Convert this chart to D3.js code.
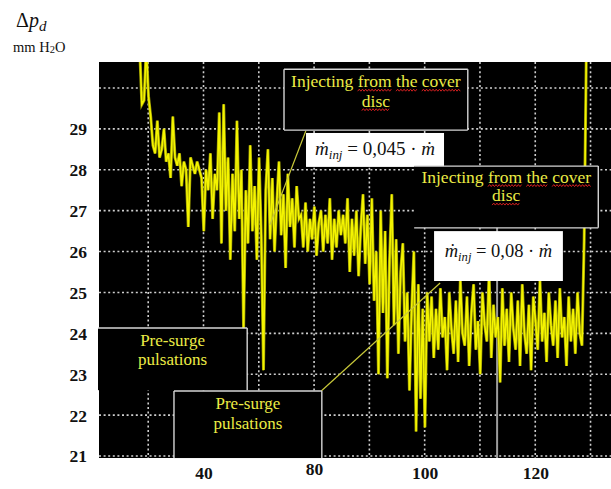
<!DOCTYPE html>
<html>
<head>
<meta charset="utf-8">
<script src="https://cdn.jsdelivr.net/npm/d3@7"></script>
<style>
  body { margin: 0; background: #fff; }
  svg { display: block; }
</style>
</head>
<body>
<div id="chart"></div>
<script>
// axis ticks and labels as printed on the figure
const yTicks = [21, 22, 23, 24, 25, 26, 27, 28, 29];
const yGrid = [21, 22, 23, 24, 25, 26, 27, 28, 29, 30];
const xGrid = [30, 40, 50, 60, 70, 80, 90, 100, 110];
const xTicks = [40, 60, 80, 100];
const xTickLabels = ['40', '80', '100', '120'];

// pressure drop signal, mm H2O
const sampleStart = 28.45;
const sampleStep = 0.4;
const dp = [
  31.0, 29.6, 29.7, 31.0, 29.8, 29.3, 28.6,
  28.4, 29.2, 28.3, 28.5, 29.0, 28.2, 28.4, 27.8, 29.3,
  28.3, 28.1, 28.4, 27.6, 28.2, 28.0, 26.6, 28.3, 28.1, 27.9, 28.2, 28.0,
  27.8, 26.5, 28.0, 27.5, 28.4, 26.8, 27.9,
  27.5, 29.4, 26.2, 29.6, 27.0, 28.3, 25.8, 27.9, 26.5,
  29.2, 26.8, 28.0, 24.1, 27.5, 26.2, 28.6, 26.5, 27.6, 25.8, 28.3, 26.4, 23.1,
  27.5, 28.5, 26.3, 27.8, 26.0, 27.2, 28.2, 26.4, 27.4, 25.6, 27.9, 26.6, 27.3, 26.1, 27.6, 26.8,
  26.9, 26.1, 27.2, 26.0, 26.8, 26.3, 27.1, 25.9, 26.7, 27.0, 26.0, 26.9, 26.2, 27.3, 25.8, 26.8, 26.1, 27.0, 26.4, 26.9,
  26.2, 27.3, 25.5, 26.8, 25.9, 27.0, 25.4, 26.6, 27.4, 25.7, 26.9, 25.2,
  27.3, 24.8, 26.0, 23.0, 27.0, 24.5, 26.5, 22.9, 25.8, 27.4, 24.2, 26.3, 23.5, 25.5, 26.2, 23.8, 25.0, 22.6, 24.6, 26.0, 21.6, 25.2,
  22.4, 24.6, 21.7, 25.0, 23.8,
  24.9, 23.4, 24.6, 23.6, 25.1, 23.9, 24.4, 23.1, 25.0, 24.1, 23.5, 24.8, 23.3, 25.3, 24.0, 23.7, 24.9, 23.2, 24.5, 25.2,
  23.6, 24.3, 23.0, 25.0, 24.2, 23.8, 25.5, 23.4, 24.7, 23.9, 24.4, 22.8, 25.1, 23.7, 24.6, 23.3, 25.0, 24.1, 23.6, 24.8,
  23.2, 25.2, 24.0, 23.5, 24.7, 23.1, 24.9, 24.3, 23.6, 25.3, 23.8, 24.5, 23.3, 25.0, 24.2, 23.7, 24.8, 23.4, 25.1, 23.9,
  24.4, 23.2, 24.9, 23.8, 24.6, 23.5, 25.0, 24.0, 23.7,
  26.3, 31.0
];

const width = 611;
const height = 489;
const plot = { left: 99, right: 611, top: 62, bottom: 458 };

const x = d3.scaleLinear().domain([21.1, 113.7]).range([plot.left, plot.right]);
const y = d3.scaleLinear().domain([21, 30]).range([456, 88]);

const serif = '"Liberation Serif", "Times New Roman", "DejaVu Serif", serif';
const textYellow = '#ecec45';

const svg = d3.select('#chart').append('svg')
  .attr('width', width)
  .attr('height', height);

// black plot field
svg.append('rect')
  .attr('x', plot.left).attr('y', plot.top)
  .attr('width', plot.right - plot.left).attr('height', plot.bottom - plot.top)
  .attr('fill', '#000');

// dotted grid
const grid = svg.append('g')
  .attr('stroke', '#cfcfcf')
  .attr('stroke-width', 1.6)
  .attr('stroke-dasharray', '2,2.6');

grid.selectAll('.hg').data(yGrid).enter().append('line')
  .attr('x1', plot.left).attr('x2', plot.right)
  .attr('y1', d => y(d)).attr('y2', d => y(d));

grid.selectAll('.vg').data(xGrid).enter().append('line')
  .attr('x1', d => x(d)).attr('x2', d => x(d))
  .attr('y1', plot.top).attr('y2', plot.bottom);

// grey marker line
svg.append('line')
  .attr('x1', x(93.1)).attr('x2', x(93.1))
  .attr('y1', y(26.6)).attr('y2', plot.bottom)
  .attr('stroke', '#9c9c9c')
  .attr('stroke-width', 2);

// signal trace
svg.append('clipPath').attr('id', 'clip')
  .append('rect')
  .attr('x', plot.left).attr('y', plot.top)
  .attr('width', plot.right - plot.left).attr('height', plot.bottom - plot.top);

const line = d3.line()
  .x((d, i) => x(sampleStart + i * sampleStep))
  .y(d => y(d));

svg.append('path')
  .datum(dp)
  .attr('clip-path', 'url(#clip)')
  .attr('fill', 'none')
  .attr('stroke', '#9a9a00')
  .attr('stroke-width', 3)
  .attr('d', line);

svg.append('path')
  .datum(dp)
  .attr('clip-path', 'url(#clip)')
  .attr('fill', 'none')
  .attr('stroke', '#f4f400')
  .attr('stroke-width', 1.6)
  .attr('d', line);

// pointer lines
const pointers = [
  [[58.5, 28.95], [52.0, 26.65]],
  [[61.3, 22.59], [82.8, 25.23]]
];
svg.selectAll('.ptr').data(pointers).enter().append('line')
  .attr('x1', d => x(d[0][0])).attr('y1', d => y(d[0][1]))
  .attr('x2', d => x(d[1][0])).attr('y2', d => y(d[1][1]))
  .attr('stroke', '#c9c93a')
  .attr('stroke-width', 1.2);

// wavy spell-check underline under the given words
function squiggle(g, textEl, words, baseY) {
  const node = textEl.node();
  const full = node.textContent;
  const total = node.getComputedTextLength();
  const cx = +textEl.attr('x');
  const x0 = cx - total / 2;
  words.forEach(w => {
    const idx = full.indexOf(w);
    if (idx < 0) return;
    const sx = x0 + node.getSubStringLength(0, idx);
    const sw = node.getSubStringLength(idx, w.length);
    const pts = [];
    for (let k = 0; k * 1.6 <= sw; k++) {
      pts.push([sx + k * 1.6, baseY + 3 + (k % 2 ? -1 : 1)]);
    }
    g.append('path')
      .attr('d', d3.line()(pts))
      .attr('fill', 'none')
      .attr('stroke', '#d42020')
      .attr('stroke-width', 1);
  });
}

// sides: which borders to stroke, in order top, right, bottom, left
function darkBox(x0, x1, v0, v1, sides, lines, fontSize, firstDy, lineGap, marks) {
  const g = svg.append('g');
  const left = x(x0), right = x(x1), top = y(v0), bottom = y(v1);
  g.append('rect')
    .attr('x', left).attr('y', top)
    .attr('width', right - left).attr('height', bottom - top)
    .attr('fill', '#000');
  const edges = [
    [[left, top], [right, top]],
    [[right, top], [right, bottom]],
    [[left, bottom], [right, bottom]],
    [[left, top], [left, bottom]]
  ];
  edges.forEach((e, i) => {
    if (sides[i] !== '1') return;
    g.append('line')
      .attr('x1', e[0][0]).attr('y1', e[0][1])
      .attr('x2', e[1][0]).attr('y2', e[1][1])
      .attr('stroke', '#d6d6d6')
      .attr('stroke-width', 1.4);
  });
  lines.forEach((t, i) => {
    const by = top + firstDy + i * lineGap;
    const te = g.append('text')
      .attr('x', (left + right) / 2)
      .attr('y', by)
      .attr('text-anchor', 'middle')
      .attr('font-family', serif)
      .attr('font-size', fontSize)
      .attr('fill', textYellow)
      .text(t);
    if (marks) squiggle(g, te, marks[i], by);
  });
}

function formulaBox(x0, x1, v0, v1, coef, fontSize, baseDy) {
  const g = svg.append('g');
  const left = x(x0), right = x(x1), top = y(v0), bottom = y(v1);
  g.append('rect')
    .attr('x', left).attr('y', top)
    .attr('width', right - left).attr('height', bottom - top)
    .attr('fill', '#fff');
  const t = g.append('text')
    .attr('x', (left + right) / 2)
    .attr('y', top + baseDy)
    .attr('text-anchor', 'middle')
    .attr('font-family', serif)
    .attr('font-size', fontSize)
    .attr('fill', '#111');
  t.append('tspan').attr('font-style', 'italic').text('ṁ');
  t.append('tspan').attr('font-style', 'italic').attr('font-size', fontSize * 0.68).attr('dy', 4).text('inj');
  t.append('tspan').attr('dy', -4).text(' = ' + coef + ' · ');
  t.append('tspan').attr('font-style', 'italic').text('ṁ');
}

// annotations
darkBox(20.92, 47.9, 24.13, 22.61, '1100', ['Pre-surge', 'pulsations'], 17, 18, 19);
darkBox(34.66, 61.4, 22.59, 20.95, '1101', ['Pre-surge', 'pulsations'], 17, 18, 20);
darkBox(54.56, 87.8, 30.46, 28.97, '1111', ['Injecting from the cover', 'disc'], 17.5, 18, 19.5,
  [['from', 'the', 'cover'], ['disc']]);
formulaBox(58.54, 83.5, 28.9, 28.07, '0,045', 19, 22);
darkBox(78.1, 111.4, 28.09, 26.58, '1110', ['Injecting from the cover', 'disc'], 17.5, 16.5, 18.5,
  [['from', 'the', 'cover'], ['disc']]);
formulaBox(81.7, 105.0, 26.5, 25.28, '0,08', 18.5, 26);

// axes
const yAxis = svg.append('g')
  .attr('transform', `translate(${plot.left},0)`)
  .call(d3.axisLeft(y).tickValues(yTicks).tickSize(0).tickPadding(12).tickFormat(d3.format('d')));

const xAxis = svg.append('g')
  .attr('transform', `translate(0,${plot.bottom})`)
  .call(d3.axisBottom(x).tickValues(xTicks).tickSize(0).tickPadding(9)
    .tickFormat((d, i) => xTickLabels[i]));

[yAxis, xAxis].forEach(a => {
  a.select('.domain').remove();
  a.selectAll('text')
    .attr('font-family', serif)
    .attr('font-size', 17.5)
    .attr('font-weight', 'bold')
    .attr('fill', '#111');
});
xAxis.selectAll('text').filter((d, i) => xTickLabels[i] === '80').attr('dy', '0.47em');
yAxis.selectAll('text').attr('dy', '0.34em');

// axis title
const title = svg.append('text')
  .attr('x', 16).attr('y', 27)
  .attr('font-family', serif)
  .attr('font-size', 20)
  .attr('fill', '#111');
title.append('tspan').text('Δ');
title.append('tspan').attr('font-style', 'italic').text('p');
title.append('tspan').attr('font-style', 'italic').attr('font-size', 15).attr('dy', 4).text('d');

const unit = svg.append('text')
  .attr('x', 13).attr('y', 52)
  .attr('font-family', serif)
  .attr('font-size', 14.5)
  .attr('fill', '#111');
unit.append('tspan').text('mm H');
unit.append('tspan').attr('font-size', 10.5).attr('dy', 1).text('2');
unit.append('tspan').attr('dy', -1).text('O');
</script>
</body>
</html>
